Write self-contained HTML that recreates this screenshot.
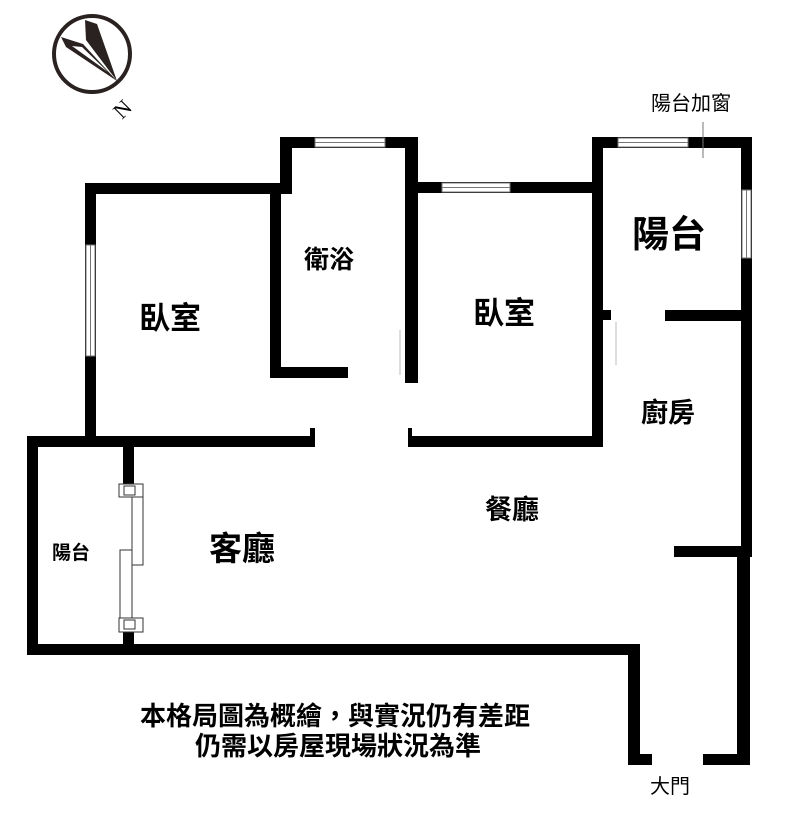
<!DOCTYPE html>
<html><head><meta charset="utf-8"><style>
html,body{margin:0;padding:0;background:#fff}
svg{display:block}
text{font-family:"Liberation Sans","Noto Sans CJK TC",sans-serif;fill:#000}
.b{font-weight:bold}
</style></head><body>
<svg width="800" height="818" viewBox="0 0 800 818" xmlns="http://www.w3.org/2000/svg">
<rect width="800" height="818" fill="#fff"/>
<!-- compass -->
<circle cx="92" cy="54" r="38" fill="none" stroke="#2a2220" stroke-width="4"/>
<polygon points="85,20 97,24 117,81 86,40" fill="#2a2220"/>
<polygon points="61,37 83,44 117,81 66,47" fill="#2a2220"/>
<polygon points="72,46 82,47 108,72" fill="#fff"/>
<text x="0" y="0" font-size="22" transform="translate(122,120) rotate(-45)" style="font-family:'Liberation Serif',serif">N</text>
<g fill="#000">
<rect x="85" y="183" width="205" height="11"/>
<rect x="85" y="183" width="11" height="264"/>
<rect x="270" y="183" width="11" height="195"/>
<rect x="280" y="137" width="12" height="57"/>
<rect x="280" y="137" width="138" height="11"/>
<rect x="270" y="367" width="78" height="11"/>
<rect x="405" y="137" width="13" height="246"/>
<rect x="405" y="182" width="197" height="11"/>
<rect x="592" y="137" width="11" height="310"/>
<rect x="408" y="436" width="195" height="11"/>
<rect x="603" y="310" width="8" height="10"/>
<rect x="592" y="137" width="160" height="11"/>
<rect x="741" y="137" width="11" height="420"/>
<rect x="665" y="310" width="87" height="11"/>
<rect x="27" y="436" width="288" height="11"/>
<rect x="310" y="428" width="5" height="10"/>
<rect x="408" y="428" width="4" height="10"/>
<rect x="27" y="436" width="11" height="219"/>
<rect x="123" y="447" width="11" height="38"/>
<rect x="123" y="632" width="11" height="14"/>
<rect x="27" y="644" width="613" height="11"/>
<rect x="628" y="644" width="12" height="121"/>
<rect x="628" y="754" width="24" height="11"/>
<rect x="737" y="555" width="13" height="210"/>
<rect x="703" y="754" width="47" height="11"/>
<rect x="674" y="546" width="78" height="11"/>
</g>
<g fill="#fff" stroke="#777" stroke-width="1">
<rect x="86" y="245" width="9" height="111"/>
<rect x="315" y="138" width="70" height="9"/>
<rect x="442" y="183" width="68" height="9"/>
<rect x="618" y="138" width="70" height="9"/>
<rect x="742" y="190" width="9" height="68"/>
</g>
<g stroke="#777" stroke-width="1">
<line x1="90.5" y1="245" x2="90.5" y2="356"/>
<line x1="315" y1="142.5" x2="385" y2="142.5"/>
<line x1="442" y1="187.5" x2="510" y2="187.5"/>
<line x1="618" y1="142.5" x2="688" y2="142.5"/>
<line x1="746.5" y1="190" x2="746.5" y2="258"/>
<line x1="703" y1="122" x2="703" y2="158"/>
<line x1="400" y1="330" x2="400" y2="375" stroke="#bbb"/>
<line x1="616" y1="322" x2="616" y2="365" stroke="#bbb"/>
</g>
<g fill="#fff" stroke="#333" stroke-width="1">
<rect x="132" y="490" width="11" height="75"/>
<rect x="120" y="550" width="12" height="75"/>
<rect x="119" y="484" width="24" height="13"/>
<rect x="119" y="618" width="24" height="14"/>
<rect x="124" y="486" width="11" height="9"/>
<rect x="124" y="620" width="11" height="9"/>
</g>
<text class="b" x="139" y="329" font-size="31">臥室</text>
<text class="b" x="304" y="268" font-size="25">衛浴</text>
<text class="b" x="473" y="324" font-size="31">臥室</text>
<text class="b" x="632" y="247" font-size="37">陽台</text>
<text class="b" x="641" y="422" font-size="27">廚房</text>
<text class="b" x="485" y="519" font-size="27">餐廳</text>
<text class="b" x="209" y="560" font-size="33">客廳</text>
<text class="b" x="52" y="559" font-size="19">陽台</text>
<text x="651" y="110" font-size="20">陽台加窗</text>
<text class="b" x="335" y="725" font-size="26" text-anchor="middle">本格局圖為概繪，與實況仍有差距</text>
<text class="b" x="338" y="755" font-size="26" text-anchor="middle">仍需以房屋現場狀況為準</text>
<text x="650" y="793" font-size="20">大門</text>
</svg>
</body></html>
